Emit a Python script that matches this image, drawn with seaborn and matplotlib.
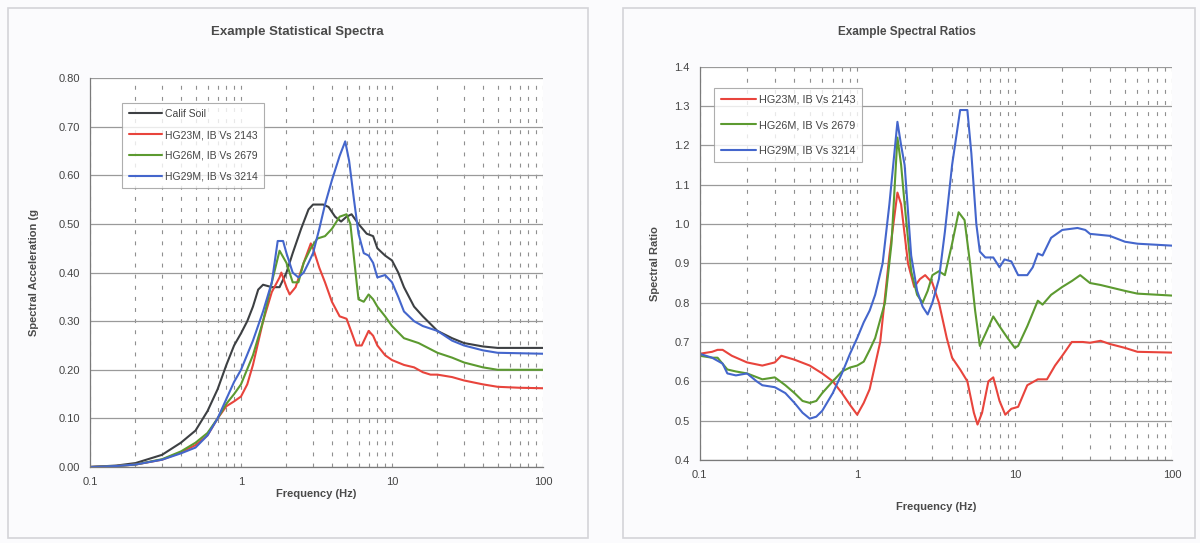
import numpy as np
import pandas as pd
import seaborn as sns
import matplotlib.pyplot as plt
from matplotlib.patches import Rectangle
from matplotlib.ticker import LogLocator, FixedLocator, FuncFormatter

# ---- Left panel: statistical spectra (frequency Hz, spectral acceleration g)
calif_f = [0.1, 0.15, 0.2, 0.3, 0.4, 0.5, 0.6, 0.7, 0.8, 0.9, 1.0, 1.1, 1.2, 1.3, 1.4, 1.6, 1.8,
           2.0, 2.2, 2.5, 2.8, 3.0, 3.5, 3.8, 4.2, 4.6, 5.0, 5.4, 6.0, 6.8, 7.5, 8.0, 9.0, 10,
           11, 12, 14, 16, 20, 25, 30, 40, 50, 100]
calif_sa = [0.0, 0.003, 0.008, 0.025, 0.05, 0.075, 0.115, 0.16, 0.21, 0.25, 0.275, 0.30, 0.33,
            0.365, 0.375, 0.37, 0.37, 0.40, 0.44, 0.49, 0.53, 0.54, 0.54, 0.535, 0.515, 0.505,
            0.515, 0.52, 0.50, 0.48, 0.475, 0.45, 0.435, 0.425, 0.40, 0.37, 0.33, 0.31, 0.28,
            0.265, 0.255, 0.248, 0.245, 0.245]

hg23_f = [0.1, 0.15, 0.2, 0.3, 0.4, 0.5, 0.6, 0.7, 0.8, 0.9, 1.0, 1.1, 1.2, 1.4, 1.6, 1.8, 1.85,
          2.0, 2.1, 2.3, 2.6, 2.9, 3.0, 3.3, 3.6, 4.0, 4.5, 5.0, 5.5, 5.8, 6.3, 7.0, 7.5, 8.0,
          9.0, 10, 12, 14, 16, 18, 20, 25, 30, 40, 50, 70, 100]
hg23_sa = [0.0, 0.002, 0.005, 0.015, 0.03, 0.045, 0.065, 0.10, 0.125, 0.135, 0.145, 0.17, 0.21,
           0.30, 0.36, 0.39, 0.40, 0.37, 0.355, 0.37, 0.42, 0.46, 0.45, 0.41, 0.38, 0.34, 0.31,
           0.305, 0.27, 0.25, 0.25, 0.28, 0.27, 0.25, 0.23, 0.22, 0.21, 0.205, 0.195, 0.19,
           0.19, 0.185, 0.178, 0.17, 0.165, 0.163, 0.162]

hg26_f = [0.1, 0.15, 0.2, 0.3, 0.4, 0.5, 0.6, 0.7, 0.8, 0.9, 1.0, 1.2, 1.4, 1.6, 1.8, 2.0, 2.2,
          2.4, 2.6, 2.9, 3.2, 3.6, 4.0, 4.5, 5.0, 5.3, 5.6, 6.0, 6.5, 7.0, 7.5, 8.0, 9.0, 10,
          12, 15, 20, 25, 30, 40, 50, 100]
hg26_sa = [0.0, 0.002, 0.005, 0.016, 0.032, 0.05, 0.07, 0.10, 0.13, 0.15, 0.17, 0.23, 0.30,
           0.38, 0.445, 0.42, 0.38, 0.38, 0.42, 0.45, 0.47, 0.475, 0.49, 0.515, 0.52, 0.50,
           0.43, 0.345, 0.34, 0.355, 0.345, 0.33, 0.31, 0.29, 0.265, 0.255, 0.235, 0.225,
           0.215, 0.205, 0.20, 0.20]

hg29_f = [0.1, 0.15, 0.2, 0.3, 0.4, 0.5, 0.6, 0.7, 0.8, 0.9, 1.0, 1.2, 1.4, 1.6, 1.75, 1.9,
          2.0, 2.2, 2.4, 2.6, 2.8, 3.0, 3.3, 3.6, 4.0, 4.5, 4.9, 5.2, 5.6, 6.0, 6.5, 7.0, 7.5,
          8.0, 9.0, 10, 11, 12, 14, 16, 20, 25, 30, 40, 50, 100]
hg29_sa = [0.0, 0.002, 0.005, 0.015, 0.028, 0.04, 0.065, 0.10, 0.14, 0.175, 0.20, 0.26, 0.32,
           0.38, 0.465, 0.465, 0.44, 0.40, 0.39, 0.40, 0.42, 0.44, 0.49, 0.54, 0.59, 0.64,
           0.67, 0.63, 0.55, 0.48, 0.44, 0.435, 0.42, 0.39, 0.395, 0.38, 0.35, 0.32, 0.30,
           0.29, 0.28, 0.26, 0.25, 0.24, 0.235, 0.233]

# ---- Right panel: spectral ratios
r23_f = [0.1, 0.12, 0.13, 0.14, 0.16, 0.2, 0.25, 0.3, 0.33, 0.4, 0.5, 0.6, 0.7, 0.8, 0.9, 1.0,
         1.1, 1.2, 1.4, 1.6, 1.8, 1.9, 2.1, 2.3, 2.5, 2.7, 3.0, 3.3, 3.7, 4.0, 4.5, 5.0, 5.5,
         5.8, 6.2, 6.8, 7.3, 8.0, 8.7, 9.5, 10.5, 12, 14, 16, 18, 20, 23, 27, 30, 35, 40, 50,
         60, 100]
r23 = [0.67, 0.675, 0.68, 0.68, 0.665, 0.648, 0.64, 0.648, 0.665, 0.655, 0.64, 0.62, 0.60,
       0.57, 0.54, 0.515, 0.545, 0.58, 0.70, 0.92, 1.08, 1.05, 0.90, 0.84, 0.86, 0.87, 0.85,
       0.80, 0.71, 0.66, 0.63, 0.60, 0.52, 0.49, 0.52, 0.60, 0.61, 0.55, 0.515, 0.53, 0.535,
       0.59, 0.605, 0.605, 0.64, 0.665, 0.70, 0.70, 0.698, 0.703, 0.695, 0.685, 0.675, 0.673]

r26_f = [0.1, 0.12, 0.13, 0.15, 0.17, 0.2, 0.25, 0.3, 0.35, 0.4, 0.45, 0.5, 0.55, 0.6, 0.7, 0.8,
         0.9, 1.0, 1.1, 1.2, 1.3, 1.5, 1.65, 1.8, 1.9, 2.0, 2.2, 2.4, 2.6, 2.8, 3.0, 3.3, 3.6,
         4.0, 4.4, 4.8, 5.2, 5.6, 6.0, 6.5, 7.3, 8.0, 9.0, 10, 10.5, 12, 14, 15, 17, 20, 23,
         26, 30, 35, 50, 60, 100]
r26 = [0.665, 0.66, 0.66, 0.63, 0.625, 0.62, 0.605, 0.61, 0.59, 0.57, 0.55, 0.545, 0.55, 0.57,
       0.60, 0.625, 0.635, 0.64, 0.65, 0.68, 0.71, 0.80, 0.95, 1.22, 1.15, 1.05, 0.88, 0.82,
       0.80, 0.83, 0.87, 0.88, 0.87, 0.95, 1.03, 1.01, 0.90, 0.78, 0.69, 0.72, 0.765, 0.74,
       0.71, 0.685, 0.69, 0.74, 0.805, 0.795, 0.82, 0.84, 0.855, 0.87, 0.85, 0.845, 0.83,
       0.823, 0.818]

r29_f = [0.1, 0.12, 0.14, 0.15, 0.17, 0.2, 0.23, 0.25, 0.3, 0.35, 0.4, 0.45, 0.5, 0.55, 0.6,
         0.7, 0.8, 0.9, 1.0, 1.1, 1.2, 1.3, 1.45, 1.6, 1.8, 1.9, 2.0, 2.2, 2.4, 2.6, 2.8, 3.0,
         3.3, 3.6, 4.0, 4.5, 5.0, 5.3, 5.7, 6.0, 6.5, 7.3, 8.0, 8.6, 9.5, 10.5, 12, 13, 14,
         15, 17, 20, 25, 28, 30, 40, 50, 60, 100]
r29 = [0.67, 0.66, 0.645, 0.62, 0.615, 0.62, 0.60, 0.59, 0.585, 0.57, 0.545, 0.52, 0.505,
       0.51, 0.525, 0.57, 0.62, 0.67, 0.71, 0.75, 0.78, 0.82, 0.90, 1.05, 1.26, 1.20, 1.15,
       0.92, 0.83, 0.79, 0.77, 0.80, 0.86, 0.98, 1.15, 1.29, 1.29, 1.18, 1.00, 0.93, 0.915,
       0.915, 0.89, 0.91, 0.905, 0.87, 0.87, 0.89, 0.925, 0.92, 0.965, 0.985, 0.99, 0.985,
       0.975, 0.97, 0.955, 0.95, 0.945]

names = ["Calif Soil", "HG23M, IB Vs 2143", "HG26M, IB Vs 2679", "HG29M, IB Vs 3214"]
colors = ["#3d4043", "#e8443c", "#5c9a30", "#4466cc"]

spec = pd.concat([
    pd.DataFrame({"f": f, "v": v, "s": n})
    for f, v, n in zip([calif_f, hg23_f, hg26_f, hg29_f],
                       [calif_sa, hg23_sa, hg26_sa, hg29_sa], names)
])
ratio = pd.concat([
    pd.DataFrame({"f": f, "v": v, "s": n})
    for f, v, n in zip([r23_f, r26_f, r29_f], [r23, r26, r29], names[1:])
])

sns.set_theme(style="white")
plt.rcParams["font.family"] = ["Liberation Sans", "DejaVu Sans"]

fig = plt.figure(figsize=(12, 5.43), dpi=100)
fig.patch.set_facecolor("#fbfbfd")

# chart-area frames like the spreadsheet export
for x0, w in [(0.007, 0.483), (0.519, 0.477)]:
    fig.add_artist(Rectangle((x0, 0.01), w, 0.975, transform=fig.transFigure,
                             fill=False, edgecolor="#d4d4d8", linewidth=1.2))

ax1 = fig.add_axes([0.075, 0.140, 0.3775, 0.716])
ax2 = fig.add_axes([0.583, 0.153, 0.394, 0.724])


def style_axis(ax, ylim, yticks, fmt):
    ax.set_xscale("log")
    ax.set_xlim(0.1, 100)
    ax.set_ylim(*ylim)
    ax.set_facecolor("white")
    ax.yaxis.set_major_locator(FixedLocator(yticks))
    ax.yaxis.set_major_formatter(FuncFormatter(lambda v, p: fmt.format(v)))
    ax.xaxis.set_major_locator(FixedLocator([0.1, 1, 10, 100]))
    ax.xaxis.set_major_formatter(FuncFormatter(lambda v, p: "{:g}".format(v)))
    ax.xaxis.set_minor_locator(LogLocator(base=10, subs=np.arange(2, 10)))
    ax.grid(True, axis="y", which="major", color="#9a9a9a", linewidth=0.9)
    ax.grid(True, axis="x", which="both", color="#8f8f8f", linewidth=0.8,
            linestyle=(0, (3.5, 6.5)))
    ax.tick_params(axis="both", which="both", length=0, labelsize=8,
                   labelcolor="#444444", pad=7)
    ax.tick_params(axis="x", which="minor", labelbottom=False)
    for side in ["top", "right"]:
        ax.spines[side].set_visible(False)
    for side in ["left", "bottom"]:
        ax.spines[side].set_color("#7a7a7a")
        ax.spines[side].set_linewidth(0.9)
    ax.set_axisbelow(True)


sns.lineplot(data=spec, x="f", y="v", hue="s", palette=colors, linewidth=1.5,
             sort=False, ax=ax1)
style_axis(ax1, (0, 0.8), np.arange(0, 0.81, 0.1), "{:.2f}")
fig.text(0.248, 1 - 32 / 543, "Example Statistical Spectra", fontsize=9.5, fontweight="bold",
         color="#4a4a4a", ha="center", va="center")
ax1.set_xlabel("Frequency (Hz)", fontsize=8, fontweight="bold", color="#4a4a4a", labelpad=2)
ax1.set_ylabel("Spectral Acceleration (g", fontsize=8, fontweight="bold", color="#4a4a4a",
               labelpad=14)
leg1 = ax1.legend(loc="upper left", bbox_to_anchor=(0.06, 0.95), fontsize=7.5,
                  frameon=True, fancybox=False, edgecolor="#9a9a9a", handlelength=3.2,
                  handletextpad=0.3, labelspacing=1.05, borderpad=0.6)
leg1.get_frame().set_linewidth(0.8)
for t in leg1.get_texts():
    t.set_color("#444444")

sns.lineplot(data=ratio, x="f", y="v", hue="s", palette=colors[1:], linewidth=1.5,
             sort=False, ax=ax2)
style_axis(ax2, (0.4, 1.4), np.arange(0.4, 1.41, 0.1), "{:.1f}")
fig.text(0.756, 1 - 32 / 543, "Example Spectral Ratios", fontsize=8.5, fontweight="bold",
         color="#4a4a4a", ha="center", va="center")
ax2.set_xlabel("Frequency (Hz)", fontsize=8, fontweight="bold", color="#4a4a4a", labelpad=16)
ax2.set_ylabel("Spectral Ratio", fontsize=8, fontweight="bold", color="#4a4a4a", labelpad=10)
leg2 = ax2.legend(loc="upper left", bbox_to_anchor=(0.02, 0.96), fontsize=7.8,
                  frameon=True, fancybox=False, edgecolor="#9a9a9a", handlelength=3.2,
                  handletextpad=0.3, labelspacing=1.45, borderpad=0.6)
leg2.get_frame().set_linewidth(0.8)
for t in leg2.get_texts():
    t.set_color("#444444")

fig.savefig("out.png", dpi=100, facecolor=fig.get_facecolor())
